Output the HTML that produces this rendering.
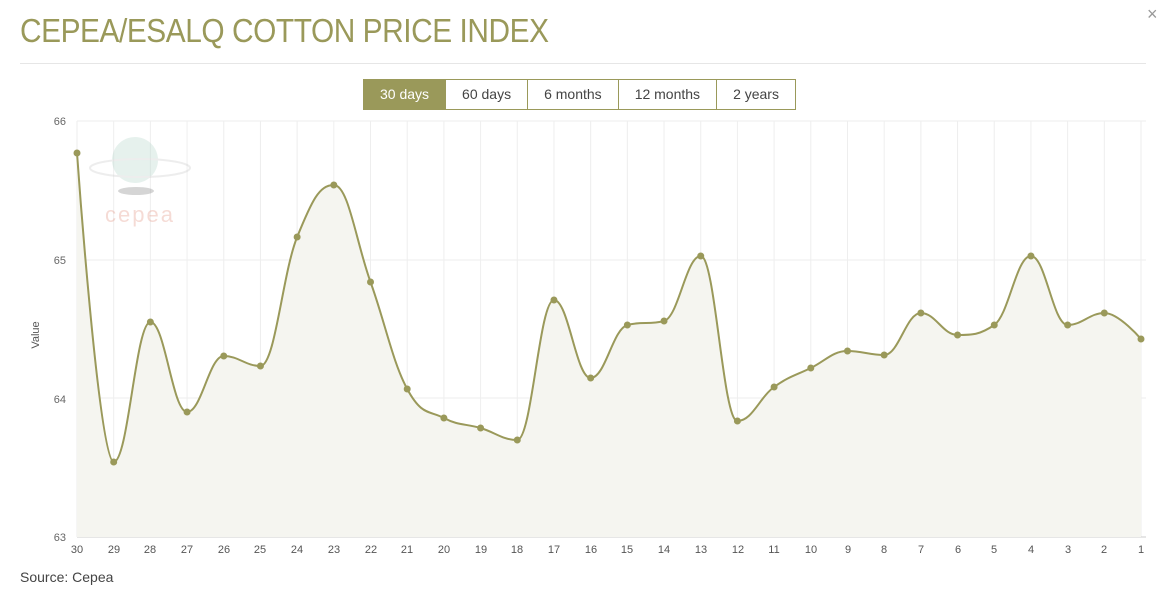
<!DOCTYPE html>
<html><head><meta charset="utf-8"><style>
body{margin:0;background:#fff;width:1161px;height:590px;overflow:hidden;font-family:"Liberation Sans",sans-serif;position:relative}
.t{position:absolute;left:20px;top:12px;font-size:33px;color:#9a995a;letter-spacing:-0.5px;transform:scaleX(0.905);transform-origin:0 0;white-space:nowrap}
.hr{position:absolute;left:20px;top:63px;width:1126px;height:1px;background:#e6e6e6}
.x{position:absolute;left:1147px;top:4px;font-size:18px;color:#999}
.btns{position:absolute;left:363px;top:79px;display:flex;height:31px}
.btns div{border:1px solid #9a995a;border-left:none;font-size:14px;color:#444;padding:0 16px;line-height:29px;white-space:nowrap}
.btns div:first-child{border-left:1px solid #9a995a;background:#9a995a;color:#fff}
.src{position:absolute;left:20px;top:569px;font-size:14px;color:#444}
svg{position:absolute;left:0;top:0}
</style></head><body>
<div class="t">CEPEA/ESALQ COTTON PRICE INDEX</div>
<div class="x">×</div>
<div class="hr"></div>
<div class="btns"><div>30 days</div><div>60 days</div><div>6 months</div><div>12 months</div><div>2 years</div></div>
<svg width="1161" height="590" id="s">
<g fill="#666" font-size="11" text-anchor="end">
<text x="66" y="125">66</text><text x="66" y="264">65</text><text x="66" y="403">64</text><text x="66" y="541">63</text>
</g>
<text x="39" y="335" font-size="11" fill="#555" text-anchor="middle" transform="rotate(-90 39 335)">Value</text>
<g id="grid"></g>
<g opacity="0.35">
<circle cx="135" cy="160" r="23" fill="#b8d8cc"/>
<ellipse cx="140" cy="168" rx="50" ry="9" fill="none" stroke="#ccc" stroke-width="2"/>
<ellipse cx="136" cy="191" rx="18" ry="4" fill="#888"/>
<text x="140" y="222" font-size="22" fill="#e59a8a" text-anchor="middle" letter-spacing="2">cepea</text>
</g>
<path id="area" fill="#f5f5f0"/>
<path id="line" fill="none" stroke="#9a995a" stroke-width="2"/>
<g id="pts" fill="#9a995a"></g>
<g fill="#555" font-size="11" text-anchor="middle" id="xl">
<text x="77" y="553">30</text><text x="114" y="553">29</text><text x="150" y="553">28</text><text x="187" y="553">27</text><text x="224" y="553">26</text><text x="260" y="553">25</text><text x="297" y="553">24</text><text x="334" y="553">23</text><text x="371" y="553">22</text><text x="407" y="553">21</text><text x="444" y="553">20</text><text x="481" y="553">19</text><text x="517" y="553">18</text><text x="554" y="553">17</text><text x="591" y="553">16</text><text x="627" y="553">15</text><text x="664" y="553">14</text><text x="701" y="553">13</text><text x="738" y="553">12</text><text x="774" y="553">11</text><text x="811" y="553">10</text><text x="848" y="553">9</text><text x="884" y="553">8</text><text x="921" y="553">7</text><text x="958" y="553">6</text><text x="994" y="553">5</text><text x="1031" y="553">4</text><text x="1068" y="553">3</text><text x="1104" y="553">2</text><text x="1141" y="553">1</text>
</g>
</svg>
<div class="src">Source: Cepea</div>
<script>
var Y=[153,462,322,412,356,366,237,185,282,389,418,428,440,300,378,325,321,256,421,387,368,351,355,313,335,325,256,325,313,339];
var x0=77,dx=(1141-77)/29,g='',p='',c='';
for(var i=0;i<30;i++){var x=x0+i*dx;g+='<line x1="'+x+'" x2="'+x+'" y1="121" y2="537" stroke="#eee"/>';}
[121,260,398].forEach(function(y){g+='<line x1="77" x2="1146" y1="'+y+'" y2="'+y+'" stroke="#eee"/>';});
g+='<line x1="77" x2="1146" y1="537" y2="537" stroke="#ccc"/>';
document.getElementById('grid').innerHTML=g;
var P=Y.map(function(y,i){return [x0+i*dx,y]});
function ctrl(i){var a=P[i-1],b=P[i],n=P[i+1];var lx=(1.5*b[0]+a[0])/2.5,ly=(1.5*b[1]+a[1])/2.5,rx=(1.5*b[0]+n[0])/2.5,ry=(1.5*b[1]+n[1])/2.5;
var cor=0;if(rx!==lx){cor=((ry-ly)*(rx-b[0]))/(rx-lx)+b[1]-ry;}ly+=cor;ry+=cor;
if(ly>a[1]&&ly>b[1]){ly=Math.max(a[1],b[1]);ry=2*b[1]-ly}else if(ly<a[1]&&ly<b[1]){ly=Math.min(a[1],b[1]);ry=2*b[1]-ly}
if(ry>n[1]&&ry>b[1]){ry=Math.max(n[1],b[1]);ly=2*b[1]-ry}else if(ry<n[1]&&ry<b[1]){ry=Math.min(n[1],b[1]);ly=2*b[1]-ry}
return [lx,ly,rx,ry];}
var C=P.map(function(p,i){if(i==0||i==29)return [p[0],p[1],p[0],p[1]];return ctrl(i)});
p='M'+P[0][0]+' '+P[0][1];
for(i=1;i<30;i++){p+=' C'+C[i-1][2]+' '+C[i-1][3]+' '+C[i][0]+' '+C[i][1]+' '+P[i][0]+' '+P[i][1];}
document.getElementById('line').setAttribute('d',p);
document.getElementById('area').setAttribute('d',p+' L1141 537 L77 537Z');
P.forEach(function(q){c+='<circle cx="'+q[0]+'" cy="'+q[1]+'" r="3.5"/>'});
document.getElementById('pts').innerHTML=c;
</script>
</body></html>
